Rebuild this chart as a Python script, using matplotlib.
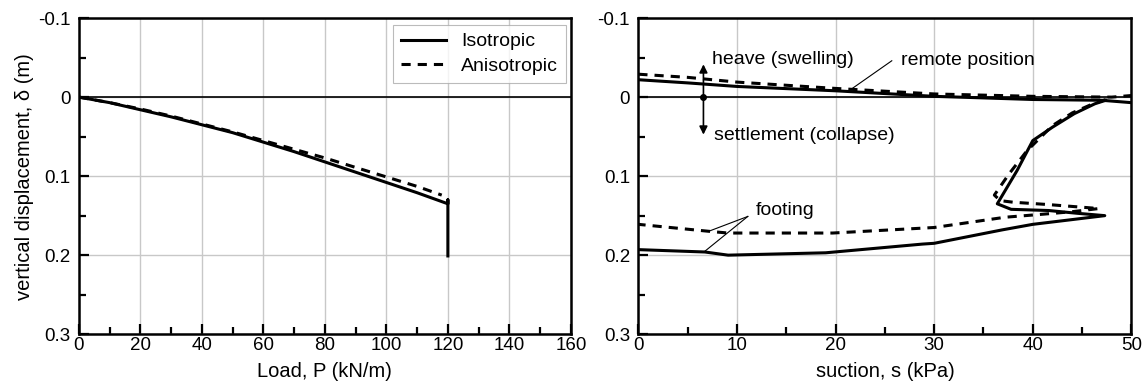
import matplotlib.pyplot as plt
from matplotlib.ticker import MultipleLocator

plt.rcParams['font.family'] = ['Liberation Sans', 'DejaVu Sans']
plt.rcParams['font.size'] = 13.5

# load-settlement curves (left)
load_iso = [0, 10, 20, 30, 40, 50, 60, 70, 80, 90, 100, 110, 120, 120, 120]
disp_iso = [0, 0.007, 0.016, 0.025, 0.035, 0.045, 0.057, 0.069, 0.082, 0.095, 0.108, 0.121, 0.135, 0.130, 0.201]
load_aniso = [0, 10, 20, 30, 40, 50, 60, 70, 80, 90, 100, 110, 118]
disp_aniso = [0, 0.007, 0.015, 0.024, 0.034, 0.044, 0.055, 0.066, 0.077, 0.089, 0.101, 0.113, 0.124]

# suction paths (right): remote position
s_rem_iso = [0, 5, 10, 20, 30, 40, 47, 50]
d_rem_iso = [-0.022, -0.018, -0.0135, -0.008, -0.001, 0.003, 0.004, 0.007]
s_rem_aniso = [0, 5, 10, 20, 30, 40, 48, 50]
d_rem_aniso = [-0.029, -0.025, -0.019, -0.011, -0.004, -0.001, 0.0, -0.002]

# suction paths (right): footing
s_foot_iso = [47.4, 46.3, 44.2, 42.0, 40.0, 38.4, 36.4, 37.8, 41.6, 44.5, 47.3,
              40.0, 36.9, 30.0, 28.8, 19.0, 9.1, 6.75, 0]
d_foot_iso = [0.004, 0.0084, 0.021, 0.038, 0.055, 0.093, 0.135, 0.142, 0.1435, 0.147, 0.150,
              0.161, 0.168, 0.185, 0.186, 0.197, 0.200, 0.196, 0.193]
s_foot_aniso = [47.4, 46.0, 44.0, 42.0, 39.4, 37.6, 36.1, 36.7, 38.0, 41.6, 46.7,
                44.0, 41.2, 37.2, 30.0, 19.7, 9.1, 7.3, 0]
d_foot_aniso = [0.003, 0.009, 0.020, 0.036, 0.068, 0.097, 0.124, 0.131, 0.133, 0.136, 0.141,
                0.145, 0.148, 0.152, 0.165, 0.172, 0.172, 0.170, 0.161]

lw = 2.2
dash = (0, (3.0, 2.3))
txt = 14

fig = plt.figure(figsize=(11.44, 3.85), dpi=100)
ax1 = fig.add_axes([0.069, 0.132, 0.430, 0.821])
ax2 = fig.add_axes([0.558, 0.132, 0.431, 0.821])


def style(ax, xmax, xmaj, xmin):
    ax.set_xlim(0, xmax)
    ax.set_ylim(0.3, -0.1)
    ax.xaxis.set_major_locator(MultipleLocator(xmaj))
    ax.xaxis.set_minor_locator(MultipleLocator(xmin))
    ax.yaxis.set_major_locator(MultipleLocator(0.1))
    ax.yaxis.set_minor_locator(MultipleLocator(0.05))
    ax.yaxis.set_major_formatter(plt.FuncFormatter(lambda v, p: '0' if abs(v) < 1e-9 else f'{v:g}'))
    ax.tick_params(which='both', direction='in', top=False, right=False, width=1.6)
    ax.tick_params(which='major', length=7)
    ax.tick_params(which='minor', length=5)
    ax.tick_params(axis='x', which='major', pad=2)
    ax.tick_params(axis='y', which='major', pad=6)
    ax.grid(True, which='major', color='#c8c8c8', lw=1.0)
    ax.axhline(0, color='black', lw=1.2, zorder=2)
    for sp in ax.spines.values():
        sp.set_linewidth(1.8)


style(ax1, 160, 20, 10)
style(ax2, 50, 10, 5)

ax1.plot(load_iso, disp_iso, color='black', lw=lw, label='Isotropic', zorder=3)
ax1.plot(load_aniso, disp_aniso, color='black', lw=lw, ls=dash, label='Anisotropic', zorder=3)
leg = ax1.legend(loc='upper right', fancybox=False, handlelength=2.3, borderpad=0.4,
                 labelspacing=0.35, handletextpad=0.8, fontsize=txt,
                 borderaxespad=0, bbox_to_anchor=(0.99, 0.978))
leg.get_frame().set_edgecolor('#aaaaaa')
leg.get_frame().set_linewidth(0.8)
ax1.set_xlabel('Load, P (kN/m)', fontsize=14.5, labelpad=6)
ax1.set_ylabel('vertical displacement, δ (m)', fontsize=14.5, labelpad=3)

ax2.plot(s_rem_iso, d_rem_iso, color='black', lw=lw, zorder=3)
ax2.plot(s_rem_aniso, d_rem_aniso, color='black', lw=lw, ls=dash, zorder=3)
ax2.plot(s_foot_iso, d_foot_iso, color='black', lw=lw, zorder=3)
ax2.plot(s_foot_aniso, d_foot_aniso, color='black', lw=lw, ls=dash, zorder=3)
ax2.set_xlabel('suction, s (kPa)', fontsize=14.5, labelpad=6)

# heave / settlement arrows
ax2.plot([6.6], [0], 'o', color='black', ms=4, zorder=4)
ax2.annotate('', xy=(6.6, -0.045), xytext=(6.6, 0),
             arrowprops=dict(arrowstyle='-|>', color='black', lw=1.2, mutation_scale=12))
ax2.annotate('', xy=(6.6, 0.051), xytext=(6.6, 0),
             arrowprops=dict(arrowstyle='-|>', color='black', lw=1.2, mutation_scale=12))
ax2.text(7.5, -0.048, 'heave (swelling)', va='center', ha='left', fontsize=txt)
ax2.text(7.7, 0.048, 'settlement (collapse)', va='center', ha='left', fontsize=txt)

# labels with leader lines
ax2.text(26.6, -0.046, 'remote position', va='center', ha='left', fontsize=txt)
ax2.plot([25.7, 21.4], [-0.046, -0.0084], color='black', lw=0.8)
ax2.text(11.9, 0.143, 'footing', va='center', ha='left', fontsize=txt)
ax2.plot([11.1, 7.3], [0.151, 0.169], color='black', lw=0.8)
ax2.plot([11.1, 6.75], [0.151, 0.195], color='black', lw=0.8)

fig.savefig('out.png', dpi=100)
